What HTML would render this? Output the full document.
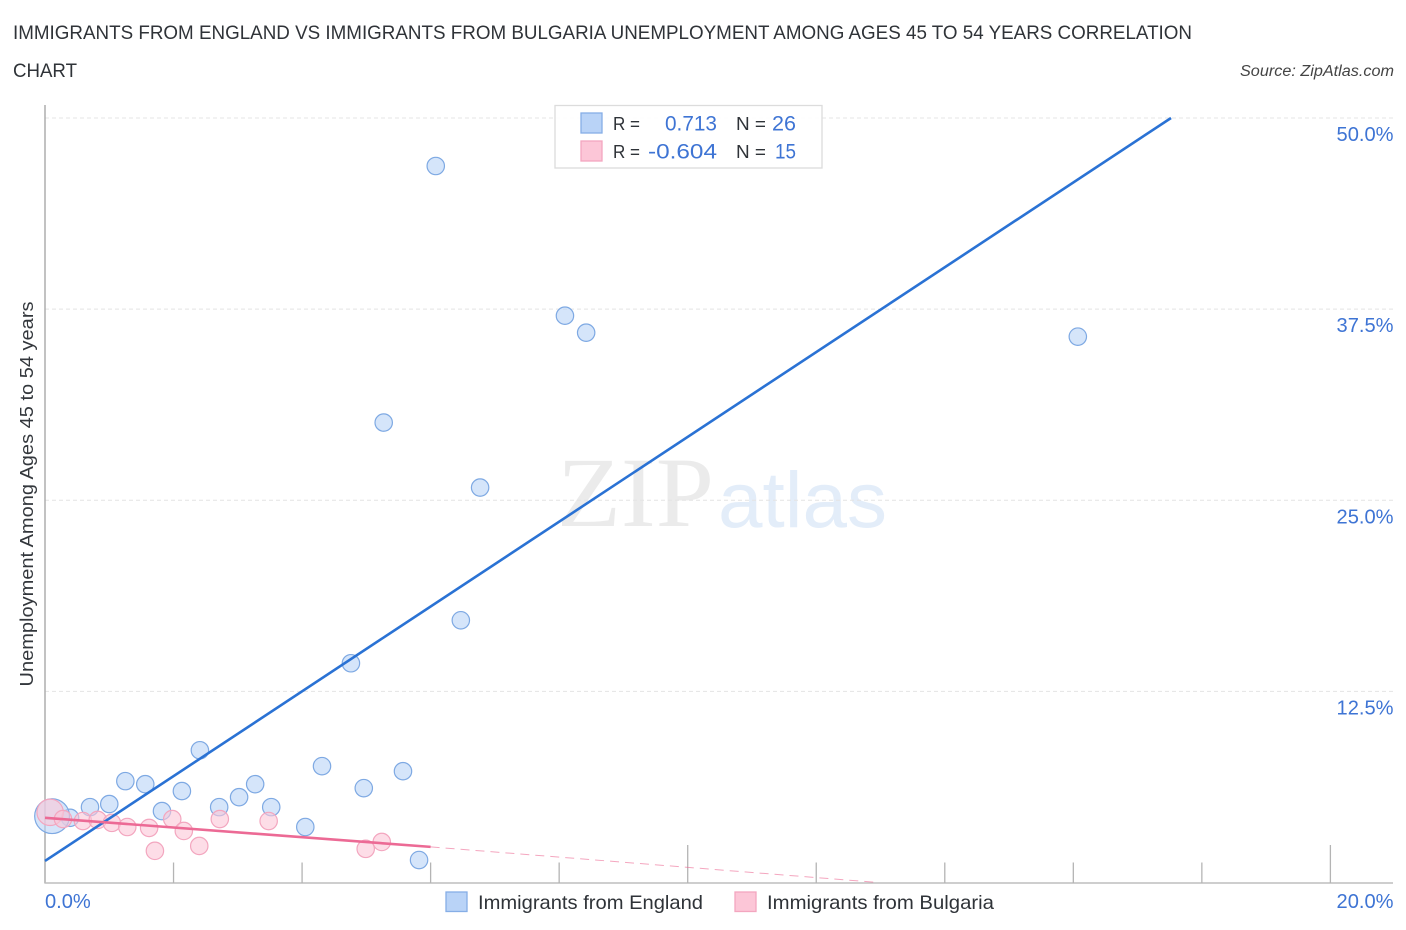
<!DOCTYPE html>
<html lang="en">
<head>
<meta charset="utf-8">
<title>Immigrants from England vs Immigrants from Bulgaria Unemployment Correlation Chart</title>
<style>
html,body{margin:0;padding:0;background:#fff;width:1406px;height:930px;overflow:hidden}
svg{display:block;font-family:"Liberation Sans",sans-serif}
</style>
</head>
<body>
<svg id="chart" xmlns="http://www.w3.org/2000/svg" width="1406" height="930" viewBox="0 0 1406 930">
  <text x="13" y="39" font-size="19" fill="#2f3338" textLength="1179" lengthAdjust="spacingAndGlyphs">IMMIGRANTS FROM ENGLAND VS IMMIGRANTS FROM BULGARIA UNEMPLOYMENT AMONG AGES 45 TO 54 YEARS CORRELATION</text>
  <text x="13" y="77" font-size="19" fill="#2f3338" textLength="64" lengthAdjust="spacingAndGlyphs">CHART</text>
  <text x="1394" y="76" font-size="15.5" font-style="italic" fill="#444" text-anchor="end" textLength="154" lengthAdjust="spacingAndGlyphs">Source: ZipAtlas.com</text>
  <g>
    <text x="557" y="526" font-family="'Liberation Serif',serif" font-size="100" fill="#ebebeb" textLength="157" lengthAdjust="spacingAndGlyphs">ZIP</text>
    <text x="718" y="527" font-size="79" fill="#e3edf9" textLength="169" lengthAdjust="spacingAndGlyphs">atlas</text>
  </g>
  <g id="grid"></g>
  <g id="axes"></g>
  <g id="points"></g>
  <g id="lines"></g>
  <text transform="translate(33,494) rotate(-90)" font-size="18.5" fill="#33373c" text-anchor="middle" textLength="385" lengthAdjust="spacingAndGlyphs">Unemployment Among Ages 45 to 54 years</text>
  <g>
    <rect x="555" y="105.500" width="267" height="62.500" fill="#fff" fill-opacity="0.95" stroke="#dcdcdc" stroke-width="1.300"/>
    <rect x="581" y="113" width="21" height="20" fill="#b9d3f7" stroke="#86aee6" stroke-width="1.300"/>
    <rect x="581" y="141" width="21" height="20" fill="#fcc6d7" stroke="#f3a6bf" stroke-width="1.300"/>
    <text x="613" y="130" font-size="18.500" fill="#2f3338" textLength="27" lengthAdjust="spacingAndGlyphs">R =</text>
    <text x="717" y="130.500" font-size="21" fill="#3e74d4" text-anchor="end" textLength="52" lengthAdjust="spacingAndGlyphs">0.713</text>
    <text x="736" y="130" font-size="18.500" fill="#2f3338" textLength="30" lengthAdjust="spacingAndGlyphs">N =</text>
    <text x="796" y="130.500" font-size="21" fill="#3e74d4" text-anchor="end" textLength="24" lengthAdjust="spacingAndGlyphs">26</text>
    <text x="613" y="158" font-size="18.500" fill="#2f3338" textLength="27" lengthAdjust="spacingAndGlyphs">R =</text>
    <text x="648" y="158.500" font-size="21" fill="#3e74d4" textLength="69" lengthAdjust="spacingAndGlyphs">-0.604</text>
    <text x="736" y="158" font-size="18.500" fill="#2f3338" textLength="30" lengthAdjust="spacingAndGlyphs">N =</text>
    <text x="796" y="158.500" font-size="21" fill="#3e74d4" text-anchor="end" textLength="21" lengthAdjust="spacingAndGlyphs">15</text>
  </g>
  <g>
    <rect x="446" y="892" width="21" height="19.500" fill="#b9d3f7" stroke="#86aee6" stroke-width="1.300"/>
    <text x="478" y="909" font-size="19.500" fill="#2f3338" textLength="225" lengthAdjust="spacingAndGlyphs">Immigrants from England</text>
    <rect x="735" y="892" width="21" height="19.500" fill="#fcc6d7" stroke="#f3a6bf" stroke-width="1.300"/>
    <text x="767" y="909" font-size="19.500" fill="#2f3338" textLength="227" lengthAdjust="spacingAndGlyphs">Immigrants from Bulgaria</text>
  </g>
</svg>
<script>
var yTickValues = [12.5, 25, 37.5, 50];
var yTickLabels = ['12.5%', '25.0%', '37.5%', '50.0%'];
var xTickValues = [2, 4, 6, 8, 10, 12, 14, 16, 18, 20];
var xMajorTicks = [10, 20];
var xEdgeLabels = ['0.0%', '20.0%'];
var xEdgeValues = [0, 20];

var englandX = [6.08, 8.09, 8.42, 16.07, 5.27, 6.77, 6.47, 4.76, 2.41, 1.25, 1.56, 2.13, 0.70, 1.00, 1.82, 2.71, 3.02, 3.27, 3.52, 4.05, 4.31, 4.96, 5.57, 5.82, 0.39, 0.11];
var englandY = [46.86, 37.07, 35.96, 35.70, 30.08, 25.83, 17.15, 14.34, 8.65, 6.63, 6.43, 5.98, 4.93, 5.13, 4.67, 4.93, 5.58, 6.43, 4.93, 3.63, 7.61, 6.17, 7.28, 1.47, 4.23, 4.34];
var englandWeight = [1, 1, 1, 1, 1, 1, 1, 1, 1, 1, 1, 1, 1, 1, 1, 1, 1, 1, 1, 1, 1, 1, 1, 1, 1, 4];

var bulgariaX = [0.08, 0.28, 0.59, 0.82, 1.04, 1.28, 1.62, 1.71, 1.98, 2.16, 2.40, 2.72, 3.48, 4.99, 5.24];
var bulgariaY = [4.59, 4.15, 4.02, 4.09, 3.90, 3.63, 3.57, 2.07, 4.15, 3.37, 2.39, 4.15, 4.02, 2.20, 2.65];
var bulgariaWeight = [2.3, 1, 1, 1, 1, 1, 1, 1, 1, 1, 1, 1, 1, 1, 1];

var englandTrendX = [0, 17.52];
var englandTrendY = [1.41, 50];
var bulgariaTrendX = [0, 6];
var bulgariaTrendY = [4.23, 2.33];
var bulgariaDashX = [6, 12.96];
var bulgariaDashY = [2.33, 0];

var SVG_NS = 'http://www.w3.org/2000/svg';
function xScale(v) { return 45 + v * 64.27; }
function yScale(v) { return 882.5 - v * 15.29; }
function rScale(w) { return 8.7 * Math.sqrt(w); }
function make(tag, attrs, parent, text) {
  var el = document.createElementNS(SVG_NS, tag);
  for (var k in attrs) { el.setAttribute(k, attrs[k]); }
  if (text !== undefined) { el.textContent = text; }
  parent.appendChild(el);
  return el;
}

var gridGroup = document.getElementById('grid');
var axesGroup = document.getElementById('axes');
var pointsGroup = document.getElementById('points');
var linesGroup = document.getElementById('lines');

yTickValues.forEach(function (v, i) {
  var line = make('line', {x1: 45, x2: 1393, y1: yScale(v), y2: yScale(v), stroke: '#e4e4e4', 'stroke-width': 1, 'stroke-dasharray': '4 3'}, gridGroup);
  
  
  var label = make('text', {x: 1393.5, y: yScale(v) + 23, 'font-size': 20.1, fill: '#3e74d4', 'text-anchor': 'end'}, axesGroup, yTickLabels[i]);
  
  
});

var yAxisLine = make('line', {x1: 45, x2: 45, y1: 105, y2: 883.500, stroke: '#adadad', 'stroke-width': 1.500}, axesGroup);


var xAxisLine = make('line', {x1: 45, x2: 1393, y1: 883, y2: 883, stroke: '#bdbdbd', 'stroke-width': 1.500}, axesGroup);



xTickValues.forEach(function (v) {
  var top = xMajorTicks.indexOf(v) >= 0 ? 845 : 862.500;
  var tick = make('line', {x1: xScale(v), x2: xScale(v), y1: top, y2: 883, stroke: '#b4b4b4', 'stroke-width': 1.300}, axesGroup);
  
  
});

xEdgeValues.forEach(function (v, i) {
  var px = i === 0 ? xScale(v) : 1393.5;
  var anchor = i === 0 ? 'start' : 'end';
  var label = make('text', {x: px, y: 908, 'font-size': 20.1, fill: '#3e74d4', 'text-anchor': anchor}, axesGroup, xEdgeLabels[i]);
  
  
});

englandX.forEach(function (v, i) {
  var dot = make('circle', {cx: xScale(v), cy: yScale(englandY[i]), r: rScale(englandWeight[i]), fill: '#b9d3f7', 'fill-opacity': 0.6, stroke: '#7ea9e3', 'stroke-width': 1.200}, pointsGroup);
  
  
});

bulgariaX.forEach(function (v, i) {
  var dot = make('circle', {cx: xScale(v), cy: yScale(bulgariaY[i]), r: rScale(bulgariaWeight[i]), fill: '#fcc6d7', 'fill-opacity': 0.6, stroke: '#f3a6bf', 'stroke-width': 1.200}, pointsGroup);
  
  
});

var blueTrend = make('line', {x1: xScale(englandTrendX[0]), y1: yScale(englandTrendY[0]), x2: xScale(englandTrendX[1]), y2: yScale(englandTrendY[1]), stroke: '#2a72d4', 'stroke-width': 2.600}, linesGroup);


var pinkTrend = make('line', {x1: xScale(bulgariaTrendX[0]), y1: yScale(bulgariaTrendY[0]), x2: xScale(bulgariaTrendX[1]), y2: yScale(bulgariaTrendY[1]), stroke: '#ec6a95', 'stroke-width': 2.600}, linesGroup);


var pinkDash = make('line', {x1: xScale(bulgariaDashX[0]), y1: yScale(bulgariaDashY[0]), x2: xScale(bulgariaDashX[1]), y2: yScale(bulgariaDashY[1]), stroke: '#ec6a95', 'stroke-opacity': 0.6, 'stroke-width': 1, 'stroke-dasharray': '9 6'}, linesGroup);


</script>
</body>
</html>
